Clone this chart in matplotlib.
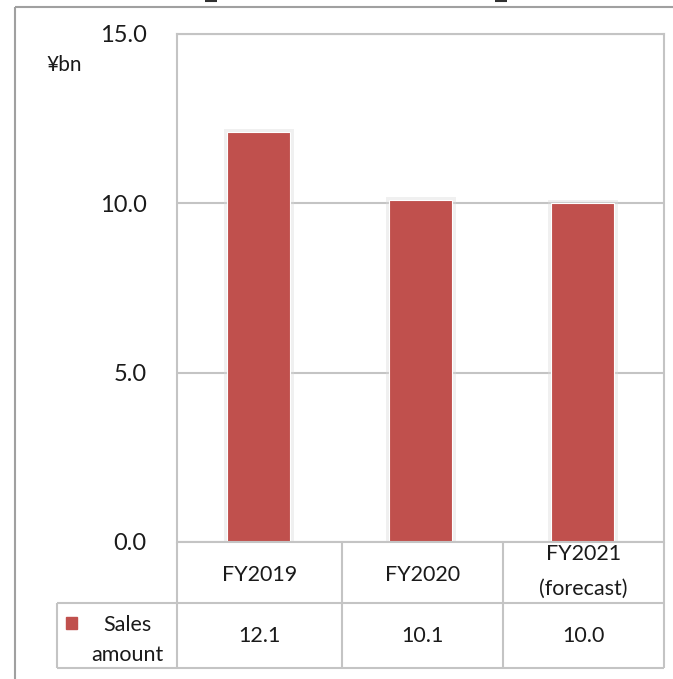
import matplotlib.pyplot as plt
import matplotlib.patheffects as pe
from matplotlib.lines import Line2D
from matplotlib.patches import Rectangle

# 데이터
categories = ['FY2019', 'FY2020', 'FY2021\n(forecast)']
sales = [12.1, 10.1, 10.0]
series_name = 'Sales\namount'
unit_label = '¥bn'
y_ticks = [0, 5, 10, 15]

bar_color = '#C0504D'
line_color = '#C4C4C4'
text_color = '#1A1A1A'
font = 'Lato'

W, H = 673, 679
plt.rcParams['font.family'] = [font, 'DejaVu Sans']
plt.rcParams['text.color'] = text_color
plt.rcParams['ytick.color'] = text_color

fig = plt.figure(figsize=(W / 100, H / 100), dpi=100)


# 픽셀 좌표 -> figure 좌표
def fx(x):
    return x / W


def fy(y):
    return 1 - y / H


def hline(x0, x1, y, color=line_color, lw=1.5):
    fig.add_artist(Line2D([fx(x0), fx(x1)], [fy(y), fy(y)], color=color, lw=lw,
                          transform=fig.transFigure, solid_capstyle='butt'))


def vline(x, y0, y1, color=line_color, lw=1.5):
    fig.add_artist(Line2D([fx(x), fx(x)], [fy(y0), fy(y1)], color=color, lw=lw,
                          transform=fig.transFigure, solid_capstyle='butt'))


# 차트 영역
left, right, top, bottom = 177, 664, 34, 542
ax = fig.add_axes([fx(left), fy(bottom), fx(right) - fx(left), fy(top) - fy(bottom)])

x = range(len(categories))
bars = ax.bar(x, sales, width=0.39, color=bar_color, edgecolor='white', linewidth=0.8, zorder=3)
for b in bars:
    b.set_path_effects([pe.Stroke(linewidth=5, foreground='#DADADA', alpha=0.4), pe.Normal()])

ax.set_xlim(-0.5, len(categories) - 0.5)
ax.set_ylim(0, 15)
ax.set_yticks(y_ticks)
ax.set_yticklabels([f'{v:.1f}' for v in y_ticks], fontsize=17)
ax.tick_params(axis='y', length=0, pad=22)
ax.set_xticks([])
ax.grid(axis='y', color=line_color, lw=1.5, zorder=0)

for side in ['left', 'top', 'right']:
    ax.spines[side].set_color(line_color)
    ax.spines[side].set_linewidth(1.5)
ax.spines['bottom'].set_visible(False)

fig.text(fx(46), fy(65), unit_label, fontsize=15, ha='left', va='center')

# 데이터 테이블
cols = [177, 342, 503, 664]
row_top, row_mid, row_bot = 542, 603, 668
legend_left = 57

hline(cols[0], cols[-1], row_top)
hline(legend_left, cols[-1], row_mid)
hline(legend_left, cols[-1], row_bot)
for c in cols:
    vline(c, row_top, row_bot)
vline(legend_left, row_mid, row_bot)

for i, cat in enumerate(categories):
    cx = (cols[i] + cols[i + 1]) / 2
    lines = cat.split('\n')
    if len(lines) == 1:
        fig.text(fx(cx), fy(575), lines[0], fontsize=15.5, ha='center', va='center')
    else:
        fig.text(fx(cx), fy(554), lines[0], fontsize=15.5, ha='center', va='center')
        fig.text(fx(cx), fy(589), lines[1], fontsize=15.5, ha='center', va='center')
    fig.text(fx(cx), fy(636), f'{sales[i]:.1f}', fontsize=15.5, ha='center', va='center')

# 범례 셀
fig.add_artist(Rectangle((fx(66), fy(629)), fx(11), 12 / H, color=bar_color,
                         transform=fig.transFigure))
name1, name2 = series_name.split('\n')
fig.text(fx(127), fy(625), name1, fontsize=15.5, ha='center', va='center')
fig.text(fx(127), fy(655), name2, fontsize=15.5, ha='center', va='center')

# 바깥 테두리
hline(15, W, 7, color='#A0A0A0', lw=1.5)
vline(15, 7, H, color='#A0A0A0', lw=1.5)
hline(205, 217, 0.5, color='#303030', lw=1.5)
hline(495, 507, 0.5, color='#303030', lw=1.5)

fig.savefig('out.png', dpi=100)
